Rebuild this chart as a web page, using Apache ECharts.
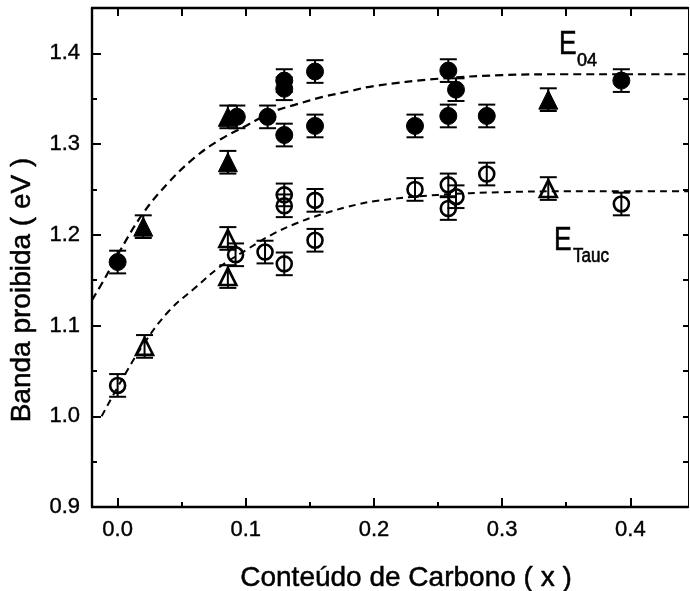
<!DOCTYPE html>
<html>
<head>
<meta charset="utf-8">
<title>Banda proibida vs Conteúdo de Carbono</title>
<script src="https://cdn.jsdelivr.net/npm/echarts@6/dist/echarts.min.js"></script>
<style>
  html, body { margin: 0; padding: 0; background: #fff; }
  #chart { width: 690px; height: 591px; }
</style>
</head>
<body>
<div id="chart"></div>
<script>
// E04 gap: filled circles and filled triangles
const e04CircX = [0.000, 0.093, 0.117, 0.130, 0.130, 0.130, 0.154, 0.154, 0.232, 0.258, 0.264, 0.258, 0.288, 0.393];
const e04CircY = [1.170, 1.330, 1.330, 1.370, 1.361, 1.310, 1.380, 1.320, 1.320, 1.381, 1.360, 1.331, 1.331, 1.370];
const e04TriX  = [0.020, 0.086, 0.086, 0.336];
const e04TriY  = [1.209, 1.330, 1.280, 1.349];

// Tauc gap: open circles and open triangles
const tauCircX = [0.000, 0.092, 0.115, 0.130, 0.130, 0.130, 0.154, 0.154, 0.232, 0.258, 0.264, 0.258, 0.288, 0.393];
const tauCircY = [1.034, 1.178, 1.181, 1.244, 1.232, 1.168, 1.238, 1.194, 1.250, 1.255, 1.242, 1.229, 1.267, 1.234];
const tauTriX  = [0.021, 0.086, 0.086, 0.336];
const tauTriY  = [1.077, 1.196, 1.154, 1.251];

// half-height of the error bars (eV)
const ERR = 0.0125;

// dashed guide curves
const e04FitX = [-0.020, -0.010, 0.000, 0.020, 0.040, 0.060, 0.080, 0.100, 0.120, 0.140, 0.160, 0.180, 0.200, 0.250, 0.300, 0.350, 0.400, 0.445];
const e04FitY = [1.128, 1.152, 1.178, 1.224, 1.258, 1.285, 1.305, 1.320, 1.335, 1.344, 1.352, 1.358, 1.364, 1.372, 1.376, 1.377, 1.377, 1.377];
const tauFitX = [-0.0125, 0.000, 0.020, 0.040, 0.060, 0.080, 0.100, 0.120, 0.140, 0.160, 0.180, 0.200, 0.250, 0.300, 0.350, 0.400, 0.445];
const tauFitY = [1.000, 1.032, 1.079, 1.116, 1.141, 1.165, 1.183, 1.200, 1.213, 1.223, 1.231, 1.237, 1.244, 1.247, 1.248, 1.248, 1.248];

// axis ticks
const xMajor = [0.0, 0.1, 0.2, 0.3, 0.4];
const xMinor = [0.05, 0.15, 0.25, 0.35];
const yMajor = [0.9, 1.0, 1.1, 1.2, 1.3, 1.4];
const yMinor = [0.95, 1.05, 1.15, 1.25, 1.35];

const X_MIN = -0.02, X_MAX = 0.445, Y_MIN = 0.9, Y_MAX = 1.45;
const FONT = '"Liberation Sans", Arial, sans-serif';

const zip = (xs, ys) => xs.map((x, i) => [x, ys[i]]);

function tickAxis(opts) {
  return {
    type: 'value', min: opts.min, max: opts.max, position: opts.position,
    splitLine: { show: false },
    axisLine: { show: !!opts.line, onZero: false, lineStyle: { color: '#000', width: opts.lineWidth || 2.4 } },
    axisTick: { show: true, inside: true, length: opts.len, customValues: opts.ticks,
      lineStyle: { color: '#000', width: 2 } },
    axisLabel: opts.labels ? {
      show: true, customValues: opts.ticks, color: '#000', fontFamily: FONT, fontSize: 22,
      textBorderColor: '#000', textBorderWidth: 0.4,
      margin: opts.margin, formatter: v => Number(v).toFixed(1)
    } : { show: false }
  };
}

function errorBars(xs, ys) {
  return {
    type: 'custom', xAxisIndex: 0, yAxisIndex: 0, z: 2, silent: true,
    data: xs.map((x, i) => [x, ys[i] - ERR, ys[i] + ERR]),
    encode: { x: 0, y: [1, 2] },
    renderItem: (params, api) => {
      const x = api.value(0);
      const lo = api.coord([x, api.value(1)]);
      const hi = api.coord([x, api.value(2)]);
      const hw = 8.5;
      const st = { stroke: '#000', lineWidth: 2 };
      return {
        type: 'group',
        children: [
          { type: 'line', shape: { x1: lo[0], y1: lo[1], x2: hi[0], y2: hi[1] }, style: st },
          { type: 'line', shape: { x1: lo[0] - hw, y1: lo[1], x2: lo[0] + hw, y2: lo[1] }, style: st },
          { type: 'line', shape: { x1: hi[0] - hw, y1: hi[1], x2: hi[0] + hw, y2: hi[1] }, style: st }
        ]
      };
    }
  };
}

function markers(xs, ys, symbol, size, filled) {
  return {
    type: 'scatter', xAxisIndex: 0, yAxisIndex: 0, z: 3, silent: true,
    symbol: symbol, symbolSize: size,
    data: zip(xs, ys),
    itemStyle: filled
      ? { color: '#000', borderColor: '#000', borderWidth: 1, opacity: 1 }
      : { color: 'rgba(255,255,255,0)', borderColor: '#000', borderWidth: 2.6, opacity: 1 }
  };
}

function fitCurve(xs, ys, width, dash) {
  return {
    type: 'line', xAxisIndex: 0, yAxisIndex: 0, z: 1, silent: true,
    data: zip(xs, ys), smooth: 0.4, showSymbol: false, symbol: 'none',
    lineStyle: { color: '#000', width: width, type: dash }
  };
}

function label(text, x, y, size, sx) {
  return { type: 'text', x: x, y: y, scaleX: sx, silent: true,
    style: { text: text, fill: '#000', font: size + 'px ' + FONT, align: 'left', verticalAlign: 'middle',
      stroke: '#000', lineWidth: 0.6 } };
}

const chart = echarts.init(document.getElementById('chart'), null, { renderer: 'canvas' });

chart.setOption({
  animation: false,
  backgroundColor: '#fff',
  grid: { left: 92, right: 2, top: 8, bottom: 84, containLabel: false },
  xAxis: [
    tickAxis({ min: X_MIN, max: X_MAX, position: 'bottom', line: true, len: 9, ticks: xMajor, labels: true, margin: 12 }),
    tickAxis({ min: X_MIN, max: X_MAX, position: 'bottom', line: false, len: 5, ticks: xMinor }),
    tickAxis({ min: X_MIN, max: X_MAX, position: 'top', line: true, len: 8, ticks: xMajor.concat(xMinor) })
  ],
  yAxis: [
    tickAxis({ min: Y_MIN, max: Y_MAX, position: 'left', line: true, len: 9, ticks: yMajor, labels: true, margin: 12 }),
    tickAxis({ min: Y_MIN, max: Y_MAX, position: 'left', line: false, len: 5, ticks: yMinor }),
    tickAxis({ min: Y_MIN, max: Y_MAX, position: 'right', line: true, lineWidth: 1, len: 5, ticks: yMajor.concat(yMinor) })
  ],
  series: [
    fitCurve(e04FitX, e04FitY, 2.2, [8, 5]),
    fitCurve(tauFitX, tauFitY, 2, [7, 5]),
    errorBars(e04CircX, e04CircY),
    errorBars(e04TriX, e04TriY),
    errorBars(tauCircX, tauCircY),
    errorBars(tauTriX, tauTriY),
    markers(e04CircX, e04CircY, 'circle', 17, true),
    markers(e04TriX, e04TriY, 'triangle', 19, true),
    markers(tauCircX, tauCircY, 'circle', 15, false),
    markers(tauTriX, tauTriY, 'triangle', 17, false)
  ],
  graphic: [
    { type: 'text', x: 406, y: 578, silent: true,
      style: { text: 'Conteúdo de Carbono ( x )', fill: '#000', font: '28px ' + FONT, align: 'center', verticalAlign: 'middle',
        stroke: '#000', lineWidth: 0.5 } },
    { type: 'text', x: 22, y: 290, rotation: Math.PI / 2, silent: true,
      style: { text: 'Banda proibida ( eV )', fill: '#000', font: '28px ' + FONT, align: 'center', verticalAlign: 'middle',
        stroke: '#000', lineWidth: 0.5 } },
    label('E', 559, 45, 33, 0.8),
    label('04', 577, 61, 19, 0.95),
    label('E', 554, 241, 33, 0.8),
    label('Tauc', 573, 256, 20, 0.85)
  ]
});
</script>
</body>
</html>
